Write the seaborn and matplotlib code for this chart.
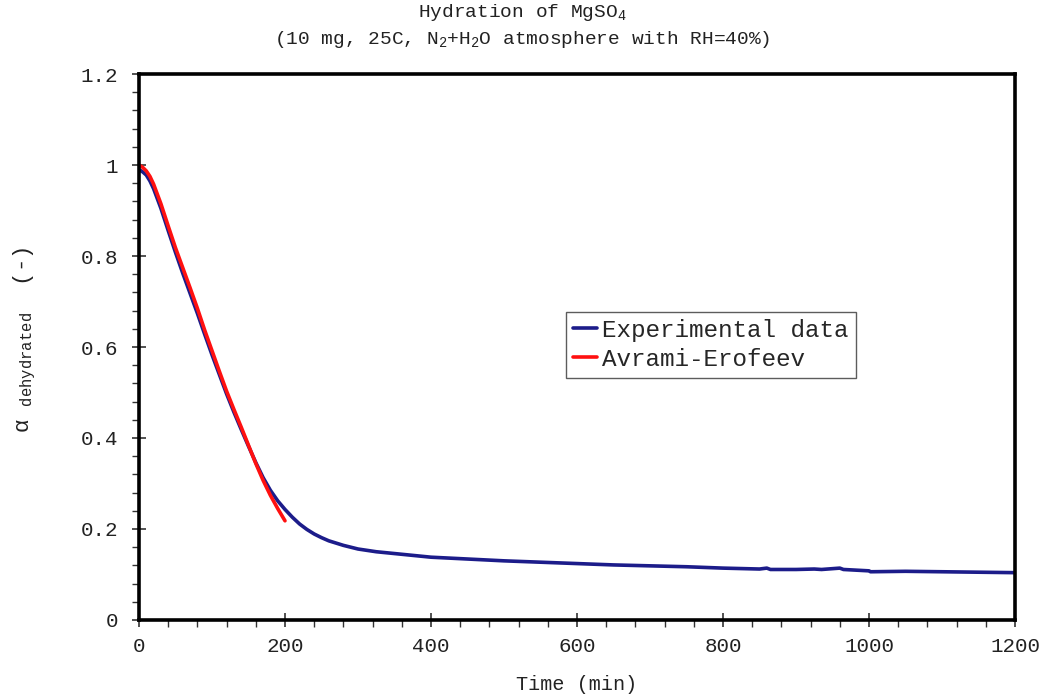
import pandas as pd
import matplotlib
matplotlib.use("Agg")
import matplotlib.pyplot as plt
import seaborn as sns
from matplotlib.ticker import MultipleLocator, FuncFormatter

# experimental curve
exp_time = [0, 5, 10, 15, 20, 30, 40, 50, 60, 70, 80, 90, 100, 110, 120, 130, 140, 150,
            160, 170, 180, 190, 200, 210, 220, 230, 240, 250, 260, 280, 300, 325, 350,
            375, 400, 450, 500, 550, 600, 650, 700, 750, 800, 850, 860, 865, 900, 925,
            935, 960, 965, 1000, 1002, 1050, 1100, 1150, 1200]
exp_alpha = [0.99, 0.985, 0.978, 0.965, 0.948, 0.905, 0.856, 0.808, 0.762, 0.718, 0.674,
             0.628, 0.583, 0.540, 0.497, 0.457, 0.419, 0.382, 0.346, 0.313, 0.285, 0.262,
             0.243, 0.226, 0.211, 0.199, 0.189, 0.181, 0.174, 0.164, 0.156, 0.150, 0.146,
             0.142, 0.138, 0.134, 0.130, 0.127, 0.124, 0.121, 0.119, 0.117, 0.114, 0.112,
             0.114, 0.111, 0.111, 0.112, 0.111, 0.114, 0.111, 0.108, 0.106, 0.107, 0.106,
             0.105, 0.104]

# Avrami-Erofeev fit
fit_time = [0, 5, 10, 15, 20, 30, 40, 50, 60, 70, 80, 90, 100, 110, 120, 130, 140, 150,
            160, 170, 180, 190, 200]
fit_alpha = [1.0, 0.995, 0.987, 0.975, 0.958, 0.915, 0.866, 0.818, 0.774, 0.73, 0.685,
             0.637, 0.592, 0.547, 0.503, 0.463, 0.424, 0.384, 0.344, 0.307, 0.274, 0.245,
             0.218]

exp_df = pd.DataFrame({"time": exp_time, "alpha": exp_alpha})
fit_df = pd.DataFrame({"time": fit_time, "alpha": fit_alpha})

sns.set_style("white")
plt.rcParams["font.family"] = ["Liberation Mono", "DejaVu Sans"]
plt.rcParams["mathtext.fontset"] = "custom"
plt.rcParams["mathtext.rm"] = "Liberation Mono"
plt.rcParams["mathtext.tt"] = "Liberation Mono"
plt.rcParams["mathtext.it"] = "Liberation Mono"

fig = plt.figure(figsize=(10.45, 6.97), dpi=100)
ax = fig.add_axes([0.133, 0.1105, 0.8383, 0.7833])

sns.lineplot(data=exp_df, x="time", y="alpha", ax=ax, color="#1c1c8a", lw=2.6,
             label="Experimental data", sort=False)
sns.lineplot(data=fit_df, x="time", y="alpha", ax=ax, color="#ff1010", lw=2.6,
             label="Avrami-Erofeev", sort=False)

ax.set_xlim(0, 1200)
ax.set_ylim(0, 1.2)
ax.xaxis.set_major_locator(MultipleLocator(200))
ax.xaxis.set_minor_locator(MultipleLocator(40))
ax.yaxis.set_major_locator(MultipleLocator(0.2))
ax.yaxis.set_minor_locator(MultipleLocator(0.04))
ax.yaxis.set_major_formatter(FuncFormatter(lambda v, p: "%g" % round(v, 2)))
ax.tick_params(which="major", direction="inout", length=10, width=1.2,
               labelsize=15, color="#333333", labelcolor="#222222")
ax.tick_params(axis="y", which="major", pad=10)
ax.tick_params(axis="x", which="major", pad=7)
ax.tick_params(which="minor", direction="out", length=5, width=1.0, color="#333333")
ax.tick_params(bottom=True, left=True, which="both")

for s in ax.spines.values():
    s.set_linewidth(2.6)
    s.set_color("black")

ax.set_xlabel("Time (min)", fontsize=14.5, color="#222222", labelpad=14)
ax.set_ylabel(r"$\alpha$ $_{\mathtt{dehydrated}}$  (-)", fontsize=16, color="#222222")
ax.yaxis.set_label_coords(-0.115, 0.513)
fig.text(0.5, 0.982, r"Hydration of MgSO$_4$", ha="center", va="center",
         fontsize=14, color="#222222")
fig.text(0.5, 0.943, "(10 mg, 25C, N$_2$+H$_2$O atmosphere with RH=40%)", ha="center",
         va="center", fontsize=14, color="#222222")

leg = ax.legend(loc="upper left", bbox_to_anchor=(0.487, 0.565), fontsize=17.5,
                frameon=True, fancybox=False, handlelength=1.0, handletextpad=0.2,
                borderpad=0.3, labelspacing=0.25, borderaxespad=0)
leg.get_frame().set_edgecolor("#333333")
leg.get_frame().set_linewidth(1.0)

fig.savefig("out.png", dpi=100)
